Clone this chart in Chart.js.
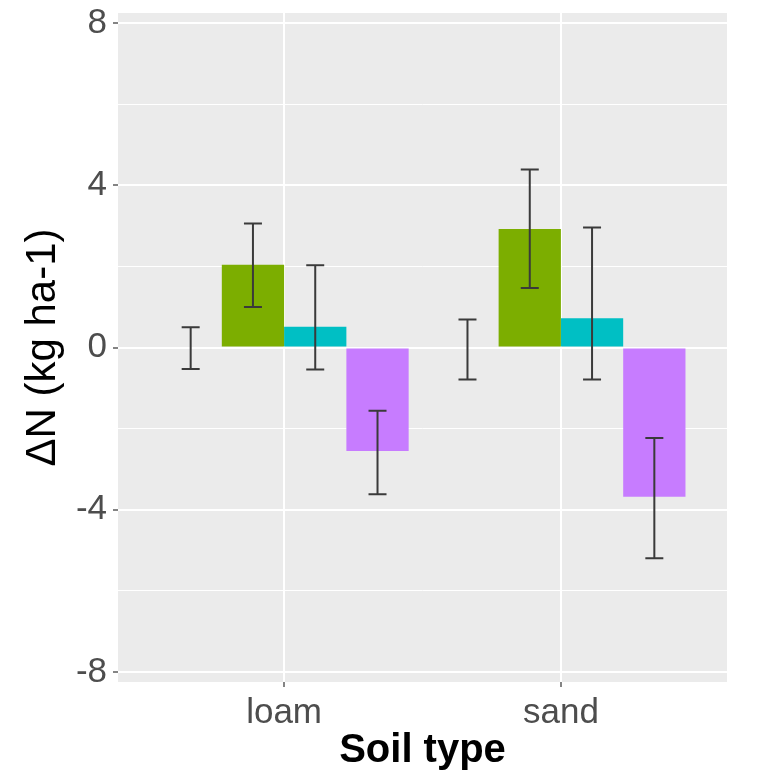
<!DOCTYPE html>
<html>
<head>
<meta charset="utf-8">
<script src="https://cdn.jsdelivr.net/npm/chart.js@4/dist/chart.umd.min.js"></script>
<style>
  html, body { margin: 0; padding: 0; background: #ffffff; }
  #wrap { width: 772px; height: 775px; }
</style>
</head>
<body>
<div id="wrap"><canvas id="c" width="772" height="775"></canvas></div>
<script>
// ---- data ----
const categories = ['loam', 'sand'];
const seriesNames = ['T1', 'T2', 'T3', 'T4'];
const seriesColors = ['#F8766D', '#7CAE00', '#00BFC4', '#C77CFF'];

const s1Mean = [0.00, 0.00];
const s1Low  = [-0.53, -0.79];
const s1High = [0.50, 0.69];

const s2Mean = [2.04, 2.92];
const s2Low  = [1.00, 1.47];
const s2High = [3.06, 4.39];

const s3Mean = [0.51, 0.72];
const s3Low  = [-0.54, -0.79];
const s3High = [2.03, 2.96];

const s4Mean = [-2.55, -3.68];
const s4Low  = [-3.62, -5.20];
const s4High = [-1.56, -2.23];

const yTicks = [-8, -6, -4, -2, 0, 2, 4, 6, 8];
const yLabelTicks = [-8, -4, 0, 4, 8];

// ---- build ----
const means = [s1Mean, s2Mean, s3Mean, s4Mean];
const lows = [s1Low, s2Low, s3Low, s4Low];
const highs = [s1High, s2High, s3High, s4High];

const datasets = means.map((m, si) => ({
  label: seriesNames[si],
  data: m.map((v, ci) => ({ x: ci + 1, y: v, lo: lows[si][ci], hi: highs[si][ci] })),
  backgroundColor: seriesColors[si],
  borderWidth: 0,
  categoryPercentage: 0.9,
  barPercentage: 1.0
}));

const FONT = "'Liberation Sans', Arial, sans-serif";

const panelBg = {
  id: 'panelBg',
  beforeDraw(chart) {
    const { ctx, chartArea: a } = chart;
    ctx.save();
    ctx.fillStyle = '#EBEBEB';
    ctx.fillRect(a.left, a.top, a.right - a.left, a.bottom - a.top);
    ctx.restore();
  }
};

const errorBars = {
  id: 'errorBars',
  afterDatasetsDraw(chart) {
    const { ctx } = chart;
    const yScale = chart.scales.y;
    ctx.save();
    ctx.strokeStyle = '#3A3A3A';
    ctx.lineWidth = 2;
    chart.data.datasets.forEach((ds, di) => {
      const meta = chart.getDatasetMeta(di);
      meta.data.forEach((bar, i) => {
        const d = ds.data[i];
        const x = bar.x;
        const yl = yScale.getPixelForValue(d.lo);
        const yh = yScale.getPixelForValue(d.hi);
        const hw = 9;
        ctx.beginPath();
        ctx.moveTo(x, yl); ctx.lineTo(x, yh);
        ctx.moveTo(x - hw, yl); ctx.lineTo(x + hw, yl);
        ctx.moveTo(x - hw, yh); ctx.lineTo(x + hw, yh);
        ctx.stroke();
      });
    });
    ctx.restore();
  }
};

new Chart(document.getElementById('c'), {
  type: 'bar',
  data: { datasets },
  plugins: [panelBg, errorBars],
  options: {
    responsive: false,
    animation: false,
    layout: { padding: { top: 10, right: 45, bottom: 0, left: 0 } },
    plugins: { legend: { display: false }, tooltip: { enabled: false } },
    scales: {
      x: {
        type: 'linear',
        offset: false,
        min: 0.4,
        max: 2.6,
        afterBuildTicks(scale) {
          scale.ticks = categories.map((c, i) => ({ value: i + 1 }));
        },
        afterFit(scale) { scale.height = 93; },
        ticks: {
          callback: (v) => categories[Math.round(v) - 1] || '',
          color: '#4D4D4D',
          font: { family: FONT, size: 35 },
          padding: 5,
          maxRotation: 0
        },
        grid: {
          offset: false,
          color: '#FFFFFF',
          lineWidth: 2,
          drawTicks: true,
          tickLength: 5,
          tickColor: '#333333',
          tickWidth: 1.2
        },
        border: { display: false },
        title: {
          display: true,
          text: 'Soil type',
          color: '#000000',
          font: { family: FONT, size: 40, weight: 'bold' },
          padding: { top: 0, bottom: 0 }
        }
      },
      y: {
        min: -8.25,
        max: 8.25,
        afterBuildTicks(scale) {
          scale.ticks = yTicks.map(v => ({ value: v }));
        },
        afterFit(scale) { scale.width = 118; },
        ticks: {
          callback: (v) => yLabelTicks.includes(v) ? String(v) : '',
          color: '#4D4D4D',
          font: { family: FONT, size: 35, lineHeight: 0.4 },
          padding: 6
        },
        grid: {
          color: '#FFFFFF',
          lineWidth: (c) => (c.tick && yLabelTicks.includes(c.tick.value)) ? 2 : 1,
          drawTicks: true,
          tickLength: 5,
          tickColor: (c) => (c.tick && yLabelTicks.includes(c.tick.value)) ? '#333333' : 'rgba(0,0,0,0)',
          tickWidth: 1.2
        },
        border: { display: false },
        title: {
          display: true,
          text: 'ΔN (kg ha-1)',
          color: '#000000',
          font: { family: FONT, size: 42 },
          padding: { top: 18, bottom: 0 }
        }
      }
    }
  }
});
</script>
</body>
</html>
